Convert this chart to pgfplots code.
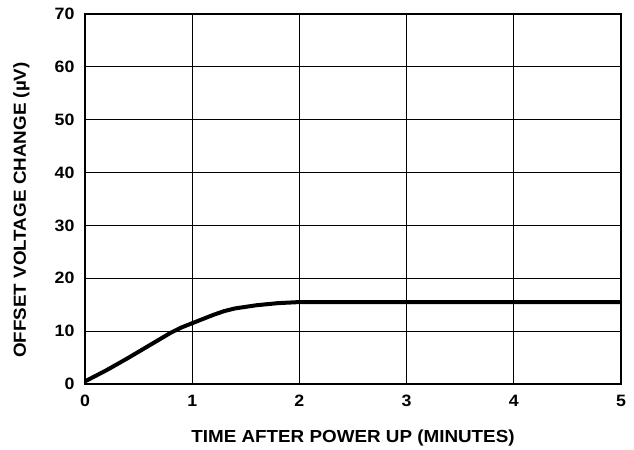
\documentclass[border=0pt]{standalone}
\usepackage{fontspec}
\setmainfont[FakeStretch=1.08]{Liberation Sans}
\usepackage{pgfplots}
\pgfplotsset{compat=1.18}
\begin{document}
\begin{tikzpicture}
\begin{axis}[
  scale only axis, width=536bp, height=370bp,
  xmin=0, xmax=5, ymin=0, ymax=70,
  xtick={0,1,2,3,4,5}, ytick={0,10,20,30,40,50,60,70},
  grid=major, grid style={black, line width=1.2bp},
  axis line style={black, line width=1.2bp},
  tick style={draw=none},
  ticklabel style={font=\fontsize{16.5}{19}\selectfont\bfseries},
  yticklabel style={anchor=east, xshift=-7bp},
  xticklabel style={anchor=north, yshift=-8bp},
  /pgf/number format/assume math mode=true,
  xlabel={TIME AFTER POWER UP (MINUTES)},
  ylabel={OFFSET VOLTAGE CHANGE (µV)},
  label style={font=\fontsize{17.5}{20}\selectfont\bfseries},
  xlabel style={at={(axis description cs:0.5,-0.145)}, anchor=center},
  ylabel style={at={(axis description cs:-0.1185,0.47)}, anchor=center},
  clip=false,
]
\addplot[black, line width=4bp, line join=round] coordinates {
(0,0.5) (0.2,2.6) (0.4,4.9) (0.6,7.3) (0.8,9.7) (0.9,10.7) (1.0,11.5) (1.1,12.3) (1.2,13.1) (1.3,13.8) (1.4,14.3) (1.5,14.6) (1.6,14.9) (1.8,15.3) (2.0,15.5) (3,15.5) (4,15.5) (5,15.5)
};
\end{axis}
\pgfresetboundingbox
\path ([shift={(-85bp,-66bp)}]current axis.south west) rectangle ([shift={(13bp,14bp)}]current axis.north east);
\end{tikzpicture}
\end{document}
